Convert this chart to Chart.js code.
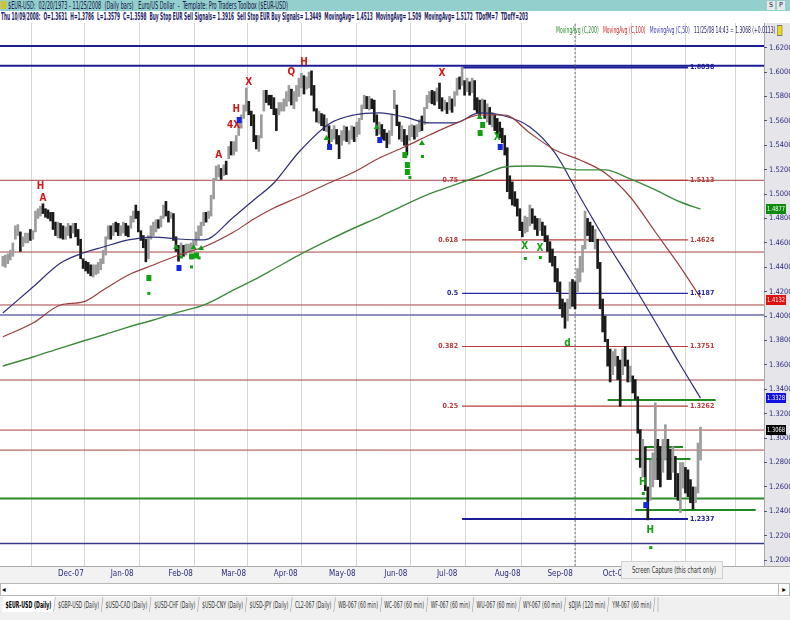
<!DOCTYPE html>
<html><head><meta charset="utf-8">
<script src="https://cdn.jsdelivr.net/npm/chart.js@4.4.1/dist/chart.umd.min.js"></script>
<style>
body{margin:0;width:790px;height:620px;overflow:hidden;background:#fff;position:relative;font-family:"Liberation Sans Narrow","DejaVu Sans Condensed","Liberation Sans",sans-serif}
.abs{position:absolute;white-space:nowrap}
.fit{display:inline-block;transform-origin:0 50%;white-space:nowrap}
#title{left:0;top:0;width:790px;height:11px;background:#93cfcc;font-size:10px;line-height:11px;color:#15154a}
#info{left:1px;top:11px;font-size:10px;line-height:12px;color:#1d1d66;font-weight:bold}
#legend{left:556px;top:24px;font-size:9.5px;line-height:11px;z-index:3}
#tip{left:621px;top:561px;width:100px;height:16px;background:#f1f1f1;border:1px solid #d0d0d0;font-size:9px;line-height:16px;color:#333;z-index:3;text-indent:6px}
#scroll{left:0;top:583px;width:788px;height:11px;border:1px solid #b8b8b8;background:#fff}
#tabs{left:0;top:597px;width:790px;height:23px;background:#f0f0f0;font-size:9.5px;line-height:15px;color:#333}
#tabs span{display:inline-block;padding:0 5px;border-right:1px solid #999;transform:skewX(-12deg);margin-right:1px}
#tabs span i{display:inline-block;font-style:normal;transform:skewX(12deg)}
</style></head><body>
<div id="title" class="abs"><span style="display:inline-block;width:5px;height:8px;background:#d8c020;margin:1px 2px 0 1px;vertical-align:top"></span><span class="fit" data-w="280">$EUR-USD:&nbsp; 02/20/1973 - 11/25/2008&nbsp; (Daily bars)&nbsp;&nbsp; Euro/US Dollar&nbsp; -&nbsp; Template: Pro Traders Toolbox ($EUR-USD)</span>
<span style="position:absolute;left:767px;top:1px;width:8px;height:9px;background:#e8e8e8;font-size:7px;line-height:9px;text-align:center">S</span><span style="position:absolute;left:777px;top:1px;width:8px;height:9px;background:#e8e8e8;font-size:7px;line-height:9px;text-align:center">P</span></div>
<div id="info" class="abs"><span class="fit" data-w="527">Thu 10/09/2008:&nbsp; O=1.3631&nbsp; H=1.3786&nbsp; L=1.3579&nbsp; C=1.3598&nbsp; Buy Stop EUR Sell Signals= 1.3916&nbsp; Sell Stop EUR Buy Signals= 1.3449&nbsp; MovingAvg= 1.4513&nbsp; MovingAvg= 1.509&nbsp; MovingAvg= 1.5172&nbsp; TDofM=7&nbsp; TDofY=203</span></div>
<div id="legend" class="abs"><span class="fit" data-w="226"><span style="color:#2c8c2c">MovingAvg (C,200)</span>&nbsp;&nbsp; <span style="color:#d02828">MovingAvg (C,100)</span>&nbsp;&nbsp; <span style="color:#3a3ab8">MovingAvg (C,50)</span>&nbsp;&nbsp; <span style="color:#1d1d66">11/25/08 14:43 = 1.3068 (+0.0113)</span> <span style="display:inline-block;width:8px;height:9px;background:#e8d820;border:1px solid #777;vertical-align:middle"></span></span></div>
<canvas id="c" width="790" height="561" style="position:absolute;left:0;top:22px"></canvas>
<div id="tip" class="abs"><span class="fit" data-w="88">Screen Capture (this chart only)</span></div>
<div id="scroll" class="abs"><span style="position:absolute;left:1px;top:0;font-size:8px;line-height:11px">&#9666;</span><span style="position:absolute;right:0;top:0;width:10px;height:11px;border-left:1px solid #b8b8b8;font-size:8px;line-height:11px;text-align:center">&#9656;</span></div>
<div id="tabs" class="abs"><span class="fit" data-w="660"><span style="background:#fff;font-weight:bold;color:#000"><i>$EUR-USD (Daily)</i></span><span><i>$GBP-USD (Daily)</i></span><span><i>$USD-CAD (Daily)</i></span><span><i>$USD-CHF (Daily)</i></span><span><i>$USD-CNY (Daily)</i></span><span><i>$USD-JPY (Daily)</i></span><span><i>CL2-067 (Daily)</i></span><span><i>WB-067 (60 min)</i></span><span><i>WC-067 (60 min)</i></span><span><i>WF-067 (60 min)</i></span><span><i>WU-067 (60 min)</i></span><span><i>WY-067 (60 min)</i></span><span><i>$DJIA (120 min)</i></span><span><i>YM-067 (60 min)</i></span></span></div>
<script>
document.querySelectorAll('.fit').forEach(el=>{
  const w=el.getBoundingClientRect().width, t=+el.dataset.w;
  if(w>0) el.style.transform='scaleX('+(t/w).toFixed(4)+')';
});

// ---- daily bars, 01-Nov-2007 .. 25-Nov-2008 (index = trading day) ----
const highs = [
 // Nov-07
 1.449,1.450,1.451,1.454,1.460,1.474,1.475,1.469,1.465,1.468,1.468,1.471,1.470,1.486,1.488,1.490,1.492,1.488,1.487,1.485,1.485,1.477,
 // Dec-07
 1.477,1.476,1.474,1.473,1.476,1.474,1.476,1.476,1.471,1.463,1.447,1.445,1.444,1.442,1.442,1.442,1.444,1.447,1.454,1.465,1.474,
 // Jan-08
 1.474,1.476,1.477,1.476,1.474,1.477,1.476,1.474,1.482,1.486,1.491,1.486,1.470,1.466,1.463,1.466,1.474,1.477,1.479,1.479,1.482,1.491,1.494,
 // Feb-08
 1.486,1.485,1.484,1.465,1.458,1.460,1.458,1.459,1.459,1.460,1.462,1.469,1.474,1.477,1.485,1.485,1.486,1.499,1.513,1.523,1.524,
 // Mar-08
 1.521,1.524,1.527,1.539,1.543,1.543,1.548,1.562,1.565,1.573,1.587,1.576,1.568,1.565,1.548,1.548,1.565,1.585,1.585,1.581,1.581,
 // Apr-08
 1.579,1.570,1.575,1.575,1.578,1.584,1.589,1.586,1.584,1.589,1.595,1.599,1.597,1.596,1.600,1.601,1.589,1.570,1.568,1.566,1.565,1.562,
 // May-08
 1.556,1.553,1.556,1.553,1.548,1.552,1.556,1.555,1.552,1.556,1.555,1.559,1.562,1.573,1.581,1.580,1.580,1.578,1.577,1.565,1.559,1.557,
 // Jun-08
 1.553,1.550,1.552,1.565,1.585,1.573,1.559,1.556,1.553,1.548,1.556,1.557,1.556,1.557,1.561,1.564,1.571,1.581,1.584,1.585,1.584,
 // Jul-08
 1.587,1.591,1.579,1.577,1.575,1.580,1.578,1.584,1.595,1.596,1.604,1.593,1.595,1.592,1.595,1.593,1.579,1.577,1.578,1.577,1.574,1.571,1.567,
 // Aug-08
 1.565,1.562,1.559,1.554,1.548,1.538,1.515,1.510,1.502,1.496,1.488,1.477,1.482,1.481,1.491,1.488,1.482,1.480,1.480,1.477,1.474,
 // Sep-08
 1.466,1.461,1.455,1.449,1.439,1.428,1.414,1.411,1.414,1.428,1.430,1.428,1.439,1.449,1.458,1.486,1.480,1.477,1.474,1.471,1.463,1.444,
 // Oct-08
 1.414,1.400,1.381,1.373,1.371,1.373,1.367,1.364,1.373,1.375,1.364,1.359,1.351,1.348,1.334,1.307,1.299,1.293,1.260,1.282,1.288,1.329,1.299,
 // Nov-08
 1.293,1.299,1.311,1.299,1.291,1.293,1.285,1.271,1.280,1.280,1.276,1.274,1.266,1.260,1.260,1.296,1.309
];
const lows = [
 1.441,1.440,1.443,1.446,1.449,1.463,1.466,1.453,1.457,1.460,1.460,1.462,1.463,1.469,1.480,1.482,1.484,1.481,1.480,1.478,1.471,1.466,
 1.464,1.464,1.463,1.463,1.466,1.464,1.468,1.465,1.458,1.447,1.439,1.437,1.435,1.433,1.432,1.434,1.435,1.438,1.443,1.450,1.463,
 1.463,1.466,1.469,1.466,1.466,1.468,1.466,1.465,1.472,1.477,1.480,1.469,1.462,1.456,1.4445,1.447,1.463,1.466,1.469,1.472,1.473,1.480,1.482,
 1.477,1.480,1.462,1.453,1.445,1.450,1.449,1.450,1.452,1.452,1.454,1.458,1.463,1.466,1.474,1.477,1.480,1.482,1.496,1.511,1.514,
 1.512,1.515,1.516,1.529,1.532,1.532,1.535,1.548,1.554,1.562,1.568,1.565,1.556,1.543,1.537,1.535,1.546,1.568,1.575,1.573,1.570,
 1.565,1.552,1.565,1.568,1.568,1.572,1.576,1.573,1.570,1.576,1.580,1.587,1.582,1.586,1.587,1.581,1.568,1.559,1.558,1.556,1.552,1.551,
 1.538,1.543,1.545,1.541,1.529,1.540,1.544,1.543,1.541,1.545,1.543,1.547,1.549,1.561,1.570,1.570,1.569,1.570,1.559,1.548,1.549,1.545,
 1.544,1.538,1.541,1.548,1.570,1.556,1.545,1.543,1.540,1.532,1.544,1.547,1.545,1.547,1.551,1.552,1.557,1.570,1.575,1.574,1.573,
 1.576,1.570,1.568,1.569,1.566,1.569,1.567,1.572,1.581,1.586,1.589,1.581,1.584,1.581,1.583,1.569,1.566,1.563,1.566,1.562,1.559,1.557,1.555,
 1.552,1.549,1.546,1.542,1.532,1.502,1.496,1.491,1.490,1.482,1.470,1.465,1.468,1.469,1.474,1.476,1.471,1.466,1.470,1.466,1.461,
 1.453,1.444,1.441,1.428,1.420,1.406,1.399,1.390,1.396,1.406,1.408,1.406,1.420,1.428,1.436,1.455,1.466,1.461,1.461,1.455,1.439,1.406,
 1.387,1.379,1.359,1.346,1.352,1.359,1.348,1.326,1.352,1.359,1.346,1.346,1.337,1.332,1.304,1.276,1.268,1.257,1.233,1.249,1.260,1.266,1.266,
 1.260,1.272,1.282,1.266,1.266,1.272,1.252,1.249,1.239,1.259,1.255,1.252,1.247,1.242,1.247,1.255,1.282
];
const closes = [
 1.445,1.447,1.449,1.452,1.458,1.469,1.470,1.457,1.462,1.464,1.466,1.465,1.468,1.484,1.484,1.487,1.486,1.484,1.482,1.479,1.474,1.468,
 1.472,1.466,1.465,1.469,1.472,1.470,1.470,1.467,1.459,1.449,1.443,1.440,1.438,1.436,1.438,1.440,1.442,1.445,1.452,1.462,1.471,
 1.470,1.474,1.471,1.469,1.472,1.474,1.470,1.467,1.480,1.484,1.482,1.471,1.464,1.458,1.447,1.462,1.468,1.474,1.476,1.475,1.479,1.488,1.486,
 1.480,1.482,1.464,1.456,1.452,1.455,1.453,1.455,1.456,1.457,1.460,1.466,1.470,1.474,1.482,1.480,1.484,1.497,1.510,1.518,1.520,
 1.518,1.520,1.519,1.536,1.535,1.537,1.538,1.559,1.562,1.570,1.574,1.568,1.558,1.545,1.541,1.544,1.562,1.582,1.578,1.576,1.573,
 1.567,1.565,1.570,1.572,1.575,1.580,1.587,1.578,1.580,1.584,1.591,1.592,1.589,1.593,1.597,1.584,1.571,1.562,1.565,1.559,1.555,1.557,
 1.542,1.549,1.551,1.544,1.537,1.546,1.552,1.545,1.548,1.553,1.547,1.555,1.558,1.570,1.577,1.574,1.576,1.573,1.561,1.551,1.555,1.549,
 1.548,1.541,1.546,1.562,1.573,1.558,1.548,1.551,1.543,1.541,1.552,1.553,1.551,1.555,1.558,1.554,1.568,1.577,1.580,1.578,1.576,
 1.580,1.573,1.571,1.572,1.569,1.577,1.571,1.580,1.592,1.590,1.593,1.585,1.590,1.586,1.591,1.572,1.571,1.567,1.574,1.565,1.566,1.560,1.561,
 1.556,1.553,1.549,1.546,1.535,1.506,1.500,1.497,1.493,1.487,1.473,1.469,1.474,1.476,1.480,1.478,1.475,1.470,1.474,1.469,1.464,
 1.457,1.448,1.445,1.431,1.424,1.410,1.403,1.398,1.405,1.420,1.415,1.412,1.430,1.444,1.452,1.480,1.469,1.466,1.464,1.467,1.442,1.408,
 1.390,1.382,1.365,1.352,1.365,1.366,1.360,1.345,1.368,1.362,1.349,1.352,1.342,1.335,1.307,1.280,1.287,1.262,1.248,1.256,1.285,1.293,1.290,
 1.270,1.292,1.298,1.276,1.272,1.285,1.256,1.252,1.262,1.264,1.262,1.258,1.250,1.246,1.257,1.292,1.307
];

// ---- moving averages, read at sample days ----
const maDays = [0,12,23,32,40,50,60,70,80,92,100,108,118,130,140,150,160,170,180,190,200,210,220,230,240,250,260,270,278];
const ma50  = [1.4025,1.4238,1.4435,1.4517,1.4566,1.4624,1.4648,1.4632,1.4624,1.4812,1.4952,1.5091,1.5345,1.5575,1.5648,1.5665,1.5632,1.5583,1.5583,1.5665,1.5640,1.5550,1.5337,1.4976,1.4624,1.4296,1.3952,1.3599,1.3328];
const ma100 = [1.3829,1.3943,1.4091,1.4116,1.4214,1.4337,1.4419,1.4501,1.4566,1.4689,1.4796,1.4886,1.4976,1.5091,1.5181,1.5296,1.5386,1.5484,1.5575,1.5648,1.5648,1.5501,1.5361,1.5279,1.5173,1.4976,1.4689,1.4402,1.4150];
const ma200 = [1.3591,1.3665,1.3738,1.3796,1.3845,1.3910,1.3968,1.4033,1.4090,1.4214,1.4296,1.4386,1.4500,1.4624,1.4722,1.4812,1.4910,1.5001,1.5075,1.5148,1.5222,1.5230,1.5222,1.5198,1.5198,1.5124,1.5034,1.4935,1.4877];

// ---- level lines ----
const fullLevels  = [1.6214,1.6052,1.5113,1.4525,1.4091,1.4009,1.3476,1.3066,1.2902,1.2505,1.2136];
const fullColors  = ['#1c1c96','#1c1c96','#a84444','#a84444','#a84444','#6a6aa6','#a84444','#a84444','#a84444','#2c8a2c','#3a3a8a'];
const fullWidths  = [2,2,1,1,1,1.5,1,1,1,2,1.5];
const fibRatios   = ['','0.75','0.618','0.5','0.382','0.25',''];
const fibLevels   = [1.6038,1.5113,1.4624,1.4187,1.3751,1.3262,1.2337];
const fibColors   = ['#1c1c96','#b83c3c','#b83c3c','#2a2a96','#b83c3c','#b83c3c','#1c1c96'];
const fibFrom = 183, fibTo = 273;
const boxLevels = [1.3312,1.2927,1.2829,1.2411];
const boxFrom   = [241,256,252,252];
const boxTo     = [284,271,274,300];
const cursorDay = 228;

// ---- axes ----
const monthDays   = [22,43,66,87,108,130,152,173,196,217,239,262,282];
const monthLabels = ['Dec-07','Jan-08','Feb-08','Mar-08','Apr-08','May-08','Jun-08','Jul-08','Aug-08','Sep-08','Oct-08','Nov-08',''];
const priceTicks  = [1.20,1.22,1.24,1.26,1.28,1.30,1.32,1.34,1.36,1.38,1.40,1.42,1.44,1.46,1.48,1.50,1.52,1.54,1.56,1.58,1.60,1.62];
const lastValues  = [1.4877,1.4132,1.3328,1.3068];
const lastColors  = ['#0c8a0c','#e01010','#1010e0','#000000'];

// ---- signal marks [day, price, mark, colour] ----
const signals = [
 [15,1.5060,'H','r'],[16,1.4968,'A','r'],[86,1.5320,'A','r'],[92,1.5566,'4X','r'],[93,1.5690,'H','r'],
 [94,1.5607,'sq','b'],[98,1.5919,'X','r'],[115,1.6001,'Q','r'],[120,1.6083,'H','r'],[175,1.5993,'X','r'],
 [58,1.4312,'sq','g'],[58,1.4190,'dot','g'],[70,1.4394,'sq','b'],
 [69,1.4566,'tri','g'],[76,1.4566,'tri','g'],[79,1.4558,'tri','g'],[75,1.4489,'sq','g'],[77,1.4497,'sq','g'],
 [71,1.4489,'dot','g'],[75,1.4407,'dot','g'],[78,1.4481,'dot','g'],
 [129,1.5460,'tri','g'],[130,1.5386,'sq','b'],[149,1.5550,'tri','g'],[150,1.5443,'sq','b'],
 [160,1.5320,'sq','g'],[161,1.5238,'sq','g'],[161,1.5181,'sq','g'],[162,1.5140,'dot','g'],
 [167,1.5419,'tri','g'],[167,1.5312,'dot','g'],
 [190,1.5632,'tri','g'],[191,1.5566,'sq','g'],[190,1.5500,'sq','g'],
 [197,1.5468,'X','g'],[198,1.5386,'sq','b'],
 [208,1.4574,'X','g'],[208,1.4476,'dot','g'],[214,1.4558,'X','g'],[214,1.4484,'dot','g'],
 [225,1.3780,'d','g'],
 [255,1.2640,'H','g'],[255,1.2550,'dot','g'],[256,1.2451,'sq','b'],[258,1.2247,'H','g'],[258,1.2107,'dot','g']
];
const sigColors = {r:'#d41818', g:'#11a011', b:'#1026e0'};

const X_MIN = -1.12, X_MAX = 303.3, Y_MIN = 1.1952, Y_MAX = 1.6402;
const FONT = "'Liberation Sans Narrow','DejaVu Sans Condensed',sans-serif";

const datasets = [];
fullLevels.forEach((v,i)=>datasets.push({type:'line',order:6,data:[{x:X_MIN,y:v},{x:X_MAX,y:v}],borderColor:fullColors[i],borderWidth:fullWidths[i],pointRadius:0}));
fibLevels.forEach((v,i)=>datasets.push({type:'line',order:5,data:[{x:fibFrom,y:v},{x:fibTo,y:v}],borderColor:fibColors[i],borderWidth:(i===0||i===6)?2:1.2,pointRadius:0}));
boxLevels.forEach((v,i)=>datasets.push({type:'line',order:5,data:[{x:boxFrom[i],y:v},{x:boxTo[i],y:v}],borderColor:'#1f8a1f',borderWidth:2,pointRadius:0}));
datasets.push({type:'line',order:5,data:[{x:cursorDay,y:Y_MIN},{x:cursorDay,y:Y_MAX}],borderColor:'#777',borderWidth:1,borderDash:[2,2],pointRadius:0});
datasets.push({type:'bar',order:3,data:highs.map((h,i)=>({x:i,y:[lows[i],h]})),
  backgroundColor:closes.map((c,i)=>(i>0&&c<closes[i-1])?'#1a1a1a':'#9c9c9c'),barThickness:2,grouped:false,borderWidth:0});
[[ma200,'#3d8a3d',1.4],[ma100,'#9c3d3d',1.2],[ma50,'#2e2e78',1.2]].forEach(([arr,col,w])=>
  datasets.push({type:'line',order:2,data:maDays.map((d,i)=>({x:d,y:arr[i]})),borderColor:col,borderWidth:w,pointRadius:0,cubicInterpolationMode:'monotone'}));

const overlay = {
  id:'overlay',
  beforeDraw(chart){
    const {ctx,chartArea:a,width,height}=chart;
    ctx.save();
    ctx.fillStyle='#fff';ctx.fillRect(0,0,width,height);
    ctx.fillStyle='#e6e6ea';ctx.fillRect(a.right,a.top,width-a.right,a.bottom-a.top);
    ctx.fillStyle='#f2f2f2';ctx.fillRect(0,a.bottom,width,height-a.bottom);
    ctx.strokeStyle='#a8a8a8';ctx.lineWidth=1;
    ctx.beginPath();ctx.moveTo(0,a.bottom+0.5);ctx.lineTo(width,a.bottom+0.5);ctx.stroke();
    ctx.beginPath();ctx.moveTo(a.right+0.5,a.top);ctx.lineTo(a.right+0.5,a.bottom);ctx.stroke();
    ctx.restore();
  },
  afterDatasetsDraw(chart){
    const {ctx}=chart, sx=chart.scales.x, sy=chart.scales.y;
    ctx.save();
    ctx.textBaseline='middle';
    fibLevels.forEach((v,i)=>{
      const y=sy.getPixelForValue(v);
      ctx.font='bold 7px '+FONT;
      ctx.fillStyle=fibColors[i];
      if(fibRatios[i]){ctx.textAlign='right';ctx.fillText(fibRatios[i],sx.getPixelForValue(fibFrom)-4,y);}
      ctx.textAlign='left';ctx.fillText(v.toFixed(4),sx.getPixelForValue(fibTo)+2,y);
    });
    signals.forEach(([d,p,m,c])=>{
      const x=sx.getPixelForValue(d), y=sy.getPixelForValue(p);
      ctx.fillStyle=sigColors[c];
      if(m==='sq'){ctx.fillRect(x-2,y-3,5,6);}
      else if(m==='dot'){ctx.fillRect(x-1,y-1,3,3);}
      else if(m==='tri'){ctx.beginPath();ctx.moveTo(x,y-3);ctx.lineTo(x+3,y+2);ctx.lineTo(x-3,y+2);ctx.closePath();ctx.fill();}
      else {ctx.font='bold 10px '+FONT;ctx.textAlign='center';ctx.fillText(m,x,y);}
    });
    ctx.restore();
  },
  afterDraw(chart){
    const {ctx,chartArea:a}=chart, sy=chart.scales.y;
    ctx.save();
    ctx.font='7px '+FONT;ctx.textBaseline='middle';ctx.textAlign='left';
    lastValues.forEach((v,i)=>{
      const y=Math.round(sy.getPixelForValue(v));
      ctx.fillStyle=lastColors[i];ctx.fillRect(a.right+2,y-5,20,10);
      ctx.fillStyle='#fff';ctx.fillText(v.toFixed(4),a.right+3,y,18);
    });
    ctx.restore();
  }
};

new Chart(document.getElementById('c'),{
  data:{datasets},
  plugins:[overlay],
  options:{
    responsive:false,animation:false,devicePixelRatio:1,
    layout:{padding:{top:1,left:0,right:0,bottom:0}},
    plugins:{legend:{display:false},tooltip:{enabled:false}},
    scales:{
      x:{type:'linear',min:X_MIN,max:X_MAX,offset:false,
        afterBuildTicks:s=>{s.ticks=monthDays.map(v=>({value:v}));},
        afterFit:s=>{s.height=17;s.paddingLeft=0;s.paddingRight=0;},
        grid:{color:'#d6d6d6',borderDash:[1,2],drawTicks:false},
        border:{display:false},
        ticks:{autoSkip:false,maxRotation:0,align:'start',padding:3,color:'#2a2a80',font:{family:FONT,size:8},
          callback:(v)=>{const k=monthDays.indexOf(v);return k>=0?monthLabels[k]:'';}}},
      y:{type:'linear',position:'right',min:Y_MIN,max:Y_MAX,
        afterBuildTicks:s=>{s.ticks=priceTicks.map(v=>({value:v}));},
        afterFit:s=>{s.width=26;s.paddingTop=0;s.paddingBottom=0;},
        grid:{drawOnChartArea:false,drawTicks:true,tickLength:3,color:'#55557a'},
        border:{display:false},
        ticks:{padding:2,color:'#2a2a80',font:{family:FONT,size:7.5},callback:v=>Number(v).toFixed(4)}}
    }
  }
});
</script>
</body></html>
